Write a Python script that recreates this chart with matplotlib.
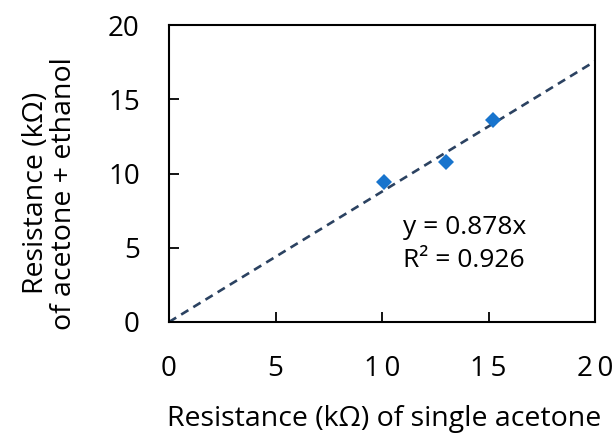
import numpy as np
from matplotlib import pyplot as plt

# data
single_acetone = [10.1, 13.0, 15.2]
acetone_ethanol = [9.4, 10.8, 13.6]
slope = 0.878
r_squared = 0.926
ticks = [0, 5, 10, 15, 20]

plt.rcParams['font.family'] = ['Open Sans', 'DejaVu Sans']

fig = plt.figure(figsize=(6.12, 4.34), dpi=100)
ax = fig.add_axes([169 / 612, 1 - 322 / 434, 426 / 612, 297 / 434])

# trendline through origin
xs = np.array([0, 20])
ax.plot(xs, slope * xs, color='#2B4261', lw=1.9, ls=(0, (3.2, 2.2)), zorder=2)

ax.plot(single_acetone, acetone_ethanol, 'D', color='#1874CD',
        markersize=8.6, markeredgewidth=0, zorder=3)

ax.text(11.0, 5.25, f"y = {slope}x\nR² = {r_squared}", fontsize=19,
        linespacing=1.45, va='center', ha='left')

ax.set_xlim(0, 20)
ax.set_ylim(0, 20)
ax.set_xticks(ticks)
ax.set_yticks(ticks)
ax.set_xticklabels(["0", "5", "1\u20090", "1\u20095", "2\u20090"])
ax.tick_params(direction='in', length=7, width=1.3, labelsize=20)
ax.tick_params(axis='x', pad=24)
ax.tick_params(axis='y', pad=21)
for s in ax.spines.values():
    s.set_linewidth(1.5)

ax.set_xlabel("Resistance (kΩ) of single acetone", fontsize=20.5, va='center')
ax.xaxis.set_label_coords(0.505, -0.326)
ax.set_ylabel("Resistance (kΩ)\nof acetone + ethanol", fontsize=20.5,
              linespacing=1.0, va='center')
ax.yaxis.set_label_coords(-0.28, 0.434)

fig.savefig("out.png", dpi=100)
